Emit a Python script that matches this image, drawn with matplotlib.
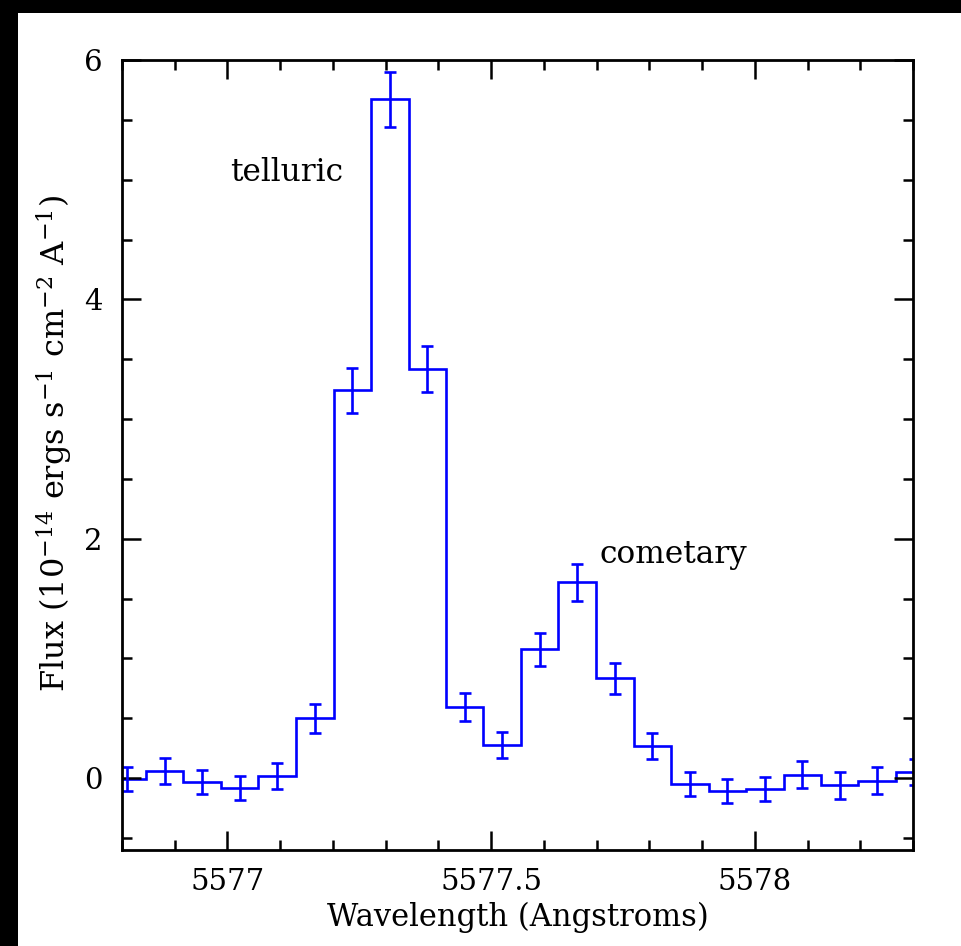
import numpy as np
import matplotlib
matplotlib.use("Agg")
import matplotlib.pyplot as plt
from matplotlib.patches import Rectangle
from matplotlib.ticker import MultipleLocator, FixedLocator, FixedFormatter

plt.rcParams['font.family'] = ['DejaVu Serif']
plt.rcParams['mathtext.fontset'] = 'dejavuserif'

# ---- data ----
wavelength = [5576.810, 5576.881, 5576.952, 5577.023, 5577.094, 5577.166,
              5577.237, 5577.308, 5577.379, 5577.450, 5577.521, 5577.592,
              5577.663, 5577.735, 5577.806, 5577.877, 5577.948, 5578.019,
              5578.090, 5578.161, 5578.232, 5578.304]
flux = [-0.01, 0.06, -0.035, -0.08, 0.02, 0.50,
        3.24, 5.67, 3.42, 0.595, 0.275, 1.077,
        1.636, 0.835, 0.27, -0.05, -0.11, -0.09,
        0.03, -0.06, -0.02, 0.05]
flux_err = [0.10, 0.11, 0.10, 0.10, 0.11, 0.12,
            0.19, 0.23, 0.19, 0.12, 0.11, 0.14,
            0.155, 0.13, 0.11, 0.10, 0.10, 0.10,
            0.11, 0.11, 0.11, 0.11]
x_ticks = [5577.0, 5577.5, 5578.0]
x_tick_labels = ["5577", "5577.5", "5578"]
y_ticks = [0, 2, 4, 6]
y_tick_labels = ["0", "2", "4", "6"]
annotations = [("telluric", 5577.112, 4.99), ("cometary", 5577.846, 1.795)]

w = np.array(wavelength)
f = np.array(flux)
e = np.array(flux_err)
dw = np.mean(np.diff(w))
edges = np.concatenate([[w[0] - dw / 2], (w[1:] + w[:-1]) / 2, [w[-1] + dw / 2]])

fig = plt.figure(figsize=(9.61, 9.46), dpi=100)
fig.patch.set_facecolor('white')
# black frame strips (top & left) as in the reference screenshot
fig.patches.append(Rectangle((0, 1 - 13 / 946), 1, 13 / 946, transform=fig.transFigure,
                             facecolor='black', edgecolor='none', zorder=0))
fig.patches.append(Rectangle((0, 0), 18 / 961, 1, transform=fig.transFigure,
                             facecolor='black', edgecolor='none', zorder=0))

ax = fig.add_axes([122 / 961, 96 / 946, 791 / 961, 790 / 946])
blue = '#0000ff'
ax.stairs(f, edges, baseline=None, color=blue, linewidth=1.9)
ax.errorbar(w, f, yerr=e, fmt='none', ecolor=blue, elinewidth=1.9,
            capsize=4.5, capthick=1.9)

ax.set_xlim(5576.8, 5578.3)
ax.set_ylim(-0.6, 6.0)

ax.xaxis.set_major_locator(FixedLocator(x_ticks))
ax.xaxis.set_major_formatter(FixedFormatter(x_tick_labels))
ax.xaxis.set_minor_locator(MultipleLocator(0.1))
ax.yaxis.set_major_locator(FixedLocator(y_ticks))
ax.yaxis.set_major_formatter(FixedFormatter(y_tick_labels))
ax.yaxis.set_minor_locator(MultipleLocator(0.5))

ax.tick_params(which='both', direction='in', top=True, right=True,
               width=1.8, colors='black', labelsize=21)
ax.tick_params(which='major', length=14)
ax.tick_params(which='minor', length=7)
ax.tick_params(axis='x', which='major', pad=13)
ax.tick_params(axis='y', which='major', pad=14)
for s in ax.spines.values():
    s.set_linewidth(2)

ax.set_xlabel('Wavelength (Angstroms)', fontsize=22, labelpad=4)
ax.set_ylabel(r'Flux (10$^{-14}$ ergs s$^{-1}$ cm$^{-2}$ A$^{-1}$)', fontsize=23)
ax.yaxis.set_label_coords(-0.06, 0.515)

for txt, xx, yy in annotations:
    ax.text(xx, yy, txt, fontsize=22.5, ha='center', va='baseline', color='black')

fig.savefig('out.png', dpi=100, facecolor='white')
